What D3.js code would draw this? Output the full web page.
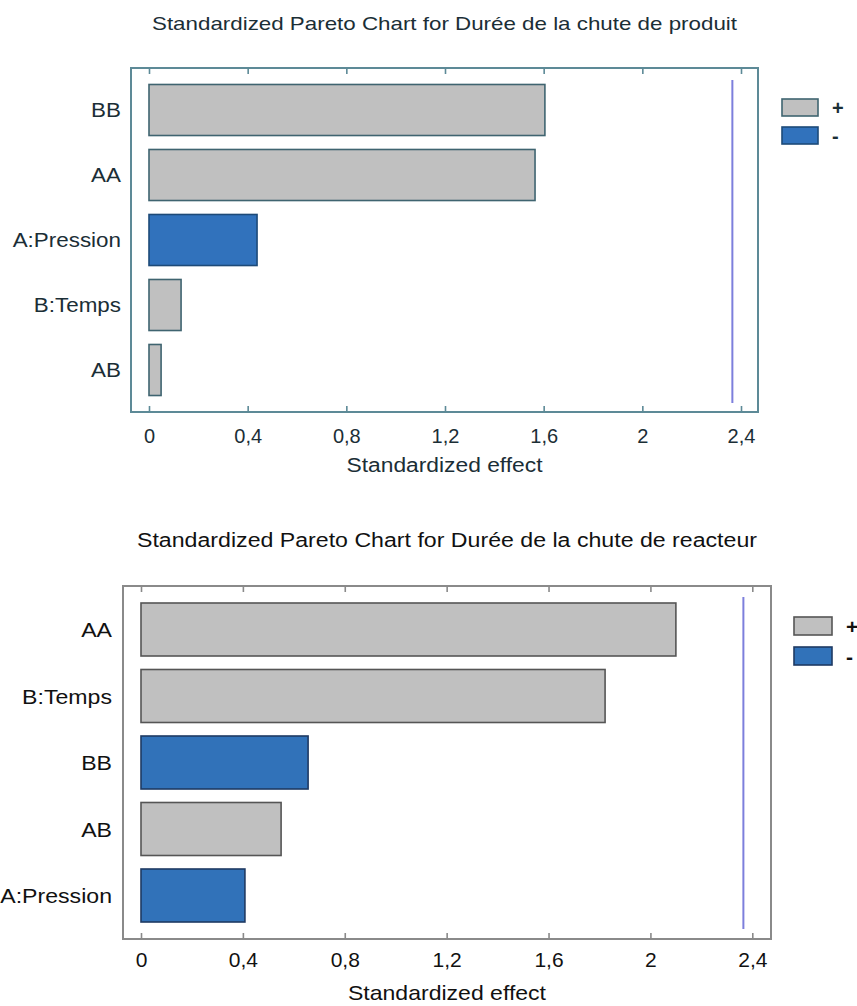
<!DOCTYPE html>
<html>
<head>
<meta charset="utf-8">
<script src="https://cdn.jsdelivr.net/npm/d3@7"></script>
<style>
  html, body { margin: 0; padding: 0; background: #fff; }
  svg { display: block; font-family: "Liberation Sans", Arial, sans-serif; }
</style>
</head>
<body>
<svg id="chart" width="857" height="1006"></svg>
<script>
// ---- Data ----
const topTitle = "Standardized Pareto Chart for Durée de la chute de produit";
const topCategories = ["BB", "AA", "A:Pression", "B:Temps", "AB"];
const topValues = [1.605, 1.565, 0.438, 0.13, 0.049];
const topSigns = ["+", "+", "-", "+", "+"];

const bottomTitle = "Standardized Pareto Chart for Durée de la chute de reacteur";
const bottomCategories = ["AA", "B:Temps", "BB", "AB", "A:Pression"];
const bottomValues = [2.10, 1.822, 0.656, 0.55, 0.408];
const bottomSigns = ["+", "+", "-", "+", "-"];

const tickValues = [0, 0.4, 0.8, 1.2, 1.6, 2, 2.4];
const tickLabels = ["0", "0,4", "0,8", "1,2", "1,6", "2", "2,4"];
const criticalValue = 2.365;
const legendItems = ["+", "-"];
const xLabel = "Standardized effect";

const svg = d3.select("#chart");

function drawChart(o) {
  const g = svg.append("g");
  const x = d3.scaleLinear().domain([0, 2.4]).range([o.x0, o.x24]);
  const y = d3.scaleBand().domain(o.categories).range([o.bandTop, o.bandBottom])
    .paddingInner(o.pad).paddingOuter(o.pad / 2);
  const color = d3.scaleOrdinal().domain(legendItems).range([o.gray, o.blue]);
  const stroke = d3.scaleOrdinal().domain(legendItems).range([o.grayStroke, o.blueStroke]);

  // title
  g.append("text").attr("x", (o.left + o.right) / 2).attr("y", o.titleY)
    .attr("text-anchor", "middle").attr("font-size", o.titleSize)
    .attr("textLength", o.titleLen).attr("lengthAdjust", "spacingAndGlyphs")
    .attr("fill", o.textColor).text(o.title);

  // bars
  g.selectAll("rect.bar").data(o.categories).enter().append("rect")
    .attr("x", x(0)).attr("y", d => y(d))
    .attr("width", (d, i) => x(o.values[i]) - x(0))
    .attr("height", y.bandwidth())
    .attr("fill", (d, i) => color(o.signs[i]))
    .attr("stroke", (d, i) => stroke(o.signs[i]))
    .attr("stroke-width", 1.6);

  // critical line
  g.append("line").attr("x1", x(criticalValue)).attr("x2", x(criticalValue))
    .attr("y1", o.lineTop).attr("y2", o.lineBottom)
    .attr("stroke", "#7d7fdc").attr("stroke-width", 2);

  // frame
  g.append("rect").attr("x", o.left).attr("y", o.top)
    .attr("width", o.right - o.left).attr("height", o.bottom - o.top)
    .attr("fill", "none").attr("stroke", o.frameColor).attr("stroke-width", 2);

  // bottom axis ticks (inward)
  const axB = d3.axisBottom(x).tickValues(tickValues).tickSize(-6).tickPadding(0)
    .tickFormat((d, i) => tickLabels[i]);
  const gb = g.append("g").attr("transform", `translate(0,${o.bottom})`).call(axB);
  gb.select(".domain").remove();
  gb.selectAll(".tick line").attr("stroke", o.frameColor).attr("stroke-width", 1.6);
  gb.selectAll(".tick text").attr("y", o.tickLabelY - o.bottom).attr("dy", 0)
    .attr("font-size", o.tickSize).attr("fill", o.textColor)
    .attr("font-family", "Liberation Sans, Arial, sans-serif");

  // top axis ticks (inward)
  const axT = d3.axisTop(x).tickValues(tickValues).tickSize(-6).tickFormat("");
  const gt = g.append("g").attr("transform", `translate(0,${o.top})`).call(axT);
  gt.select(".domain").remove();
  gt.selectAll(".tick line").attr("stroke", o.frameColor).attr("stroke-width", 1.6);

  // category labels (slightly wide glyphs as in the reference)
  g.selectAll("text.cat").data(o.categories).enter().append("text")
    .attr("x", o.catX).attr("y", d => y(d) + y.bandwidth() / 2)
    .attr("dy", "0.36em").attr("text-anchor", "end")
    .attr("font-size", o.catSize).attr("fill", o.textColor).text(d => d)
    .each(function () {
      const w = this.getComputedTextLength();
      d3.select(this).attr("textLength", w * o.catStretch).attr("lengthAdjust", "spacingAndGlyphs");
    });

  // x label
  g.append("text").attr("x", (o.left + o.right) / 2).attr("y", o.xLabelY)
    .attr("text-anchor", "middle").attr("font-size", o.xLabelSize)
    .attr("textLength", o.xLabelLen).attr("lengthAdjust", "spacingAndGlyphs")
    .attr("fill", o.textColor).text(xLabel);

  // legend
  legendItems.forEach((k, i) => {
    g.append("rect").attr("x", o.legX).attr("y", o.legY + i * o.legStep)
      .attr("width", o.legW).attr("height", o.legH)
      .attr("fill", color(k)).attr("stroke", stroke(k)).attr("stroke-width", 1.6);
    g.append("text").attr("x", o.legX + o.legW + 14).attr("y", o.legY + i * o.legStep + o.legH / 2)
      .attr("dy", "0.36em").attr("font-size", o.catSize).attr("font-weight", "bold")
      .attr("fill", o.textColor).text(k);
  });
}

drawChart({
  title: topTitle, categories: topCategories, values: topValues, signs: topSigns,
  left: 131, right: 758, top: 68, bottom: 412,
  x0: 149, x24: 741,
  bandTop: 77.5, bandBottom: 402.5, pad: 0.215,
  lineTop: 80, lineBottom: 403,
  titleY: 30, titleSize: 19, titleLen: 585,
  tickLabelY: 443, tickSize: 20,
  catX: 121, catSize: 20, catStretch: 1.12,
  xLabelY: 472, xLabelSize: 20, xLabelLen: 196,
  legX: 782, legY: 99, legW: 36, legH: 17, legStep: 28,
  gray: "#c0c0c0", grayStroke: "#3f6470", blue: "#3172bc", blueStroke: "#1d4a78",
  frameColor: "#5d8a97", textColor: "#1b2e36"
});

drawChart({
  title: bottomTitle, categories: bottomCategories, values: bottomValues, signs: bottomSigns,
  left: 123, right: 771, top: 586, bottom: 939,
  x0: 141, x24: 752.3,
  bandTop: 596.25, bandBottom: 928.75, pad: 0.203,
  lineTop: 597, lineBottom: 929,
  titleY: 547, titleSize: 20, titleLen: 620,
  tickLabelY: 967, tickSize: 21,
  catX: 112, catSize: 21, catStretch: 1.1,
  xLabelY: 1000, xLabelSize: 21, xLabelLen: 198,
  legX: 794, legY: 617, legW: 38, legH: 18, legStep: 30,
  gray: "#c0c0c0", grayStroke: "#555555", blue: "#3172b9", blueStroke: "#1f3a63",
  frameColor: "#8a8a8a", textColor: "#111111"
});
</script>
</body>
</html>
